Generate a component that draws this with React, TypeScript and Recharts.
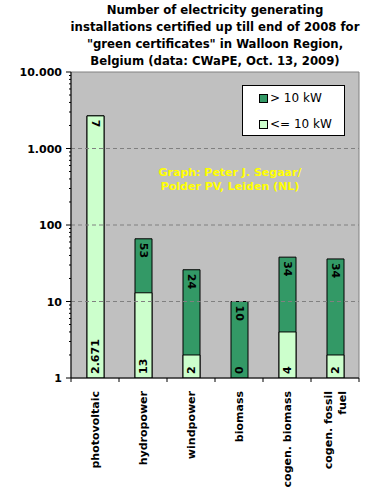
import React from 'react';
import { Bar, BarChart, LabelList, ReferenceArea, ReferenceLine, XAxis, YAxis } from 'recharts';

const CATEGORIES = ['photovoltaic', 'hydropower', 'windpower', 'biomass', 'cogen. biomass', 'cogen. fossil fuel'];
const SMALL_COUNTS = [2671, 13, 2, 0, 4, 2]; // <= 10 kW
const LARGE_COUNTS = [7, 53, 24, 10, 34, 34]; // > 10 kW
const SERIES_NAMES = ['> 10 kW', '<= 10 kW'];
const DECADES = [1, 10, 100, 1000, 10000];
const DECADE_LABELS = ['1', '10', '100', '1.000', '10.000'];
const GRID_VALUES = [10, 100, 1000];

const TITLE = [
  'Number of electricity generating',
  'installations certified up till end of 2008 for',
  '"green certificates" in Walloon Region,',
  'Belgium (data: CWaPE, Oct. 13, 2009)',
];
const CREDIT = ['Graph: Peter J. Segaar/', 'Polder PV, Leiden (NL)'];

const W = 390;
const H = 491;
const PLOT_LEFT = 71;
const PLOT_RIGHT = 359;
const PLOT_TOP = 72;
const PLOT_BOTTOM = 378;
const BAND = (PLOT_RIGHT - PLOT_LEFT) / CATEGORIES.length;

const DARK = '#339966';
const LIGHT = '#ccffcc';
const FONT = '"DejaVu Sans", Verdana, sans-serif';

const data = CATEGORIES.map((name, i) => ({
  name,
  total: SMALL_COUNTS[i] + LARGE_COUNTS[i],
  small: SMALL_COUNTS[i] > 0 ? SMALL_COUNTS[i] : null,
}));

// minor ticks 2..9 inside every decade
const yTicks: number[] = [];
DECADES.forEach((d, i) => {
  if (i === DECADES.length - 1) {
    yTicks.push(d);
    return;
  }
  for (let m = 1; m < 10; m++) yTicks.push(d * m);
});

function YTick({ y, payload }: any) {
  const idx = DECADES.indexOf(payload.value);
  const major = idx >= 0;
  return (
    <g>
      <line x1={PLOT_LEFT - (major ? 5 : 2)} x2={PLOT_LEFT} y1={y} y2={y} stroke="#000" />
      {major && (
        <text x={PLOT_LEFT - 9} y={y} dy={4} textAnchor="end" fontSize={11} fontWeight="bold" fill="#000" fontFamily={FONT}>
          {DECADE_LABELS[idx]}
        </text>
      )}
    </g>
  );
}

function XTick({ x, payload, index }: any) {
  const label: string = payload.value;
  let lines = [label];
  if (label.length > 15) {
    const cut = label.lastIndexOf(' ');
    lines = [label.slice(0, cut), label.slice(cut + 1)];
  }
  const top = PLOT_BOTTOM + 13;
  return (
    <g>
      <line x1={x - BAND / 2} x2={x - BAND / 2} y1={PLOT_BOTTOM} y2={PLOT_BOTTOM + 4} stroke="#000" />
      {index === CATEGORIES.length - 1 && (
        <line x1={x + BAND / 2} x2={x + BAND / 2} y1={PLOT_BOTTOM} y2={PLOT_BOTTOM + 4} stroke="#000" />
      )}
      {lines.map((ln, i) => {
        const cx = x + (i - (lines.length - 1) / 2) * 14;
        return (
          <text
            key={ln}
            x={cx}
            y={top}
            textAnchor="end"
            dominantBaseline="central"
            transform={`rotate(-90, ${cx}, ${top})`}
            fontSize={11}
            fontWeight="bold"
            fill="#000"
            fontFamily={FONT}
          >
            {ln}
          </text>
        );
      })}
    </g>
  );
}

function BarLabels(props: any) {
  const { x, y, width, index } = props;
  const cx = x + width / 2;
  const topY = y + 4;
  const botY = PLOT_BOTTOM - 4;
  return (
    <g fontFamily={FONT} fontSize={11} fontWeight="bold" fill="#000">
      <text x={cx} y={topY} textAnchor="start" dominantBaseline="central" transform={`rotate(90, ${cx}, ${topY})`}>
        {LARGE_COUNTS[index]}
      </text>
      <text x={cx} y={botY} textAnchor="start" dominantBaseline="central" transform={`rotate(-90, ${cx}, ${botY})`}>
        {SMALL_COUNTS[index].toLocaleString('de-DE')}
      </text>
    </g>
  );
}

function LegendBox() {
  const colors = [DARK, LIGHT];
  return (
    <div
      style={{
        position: 'absolute',
        left: 242,
        top: 85,
        width: 101,
        height: 49,
        background: '#fff',
        border: '1px solid #000',
        fontFamily: FONT,
        fontSize: 12,
      }}
    >
      {SERIES_NAMES.map((name, i) => (
        <div key={name} style={{ position: 'absolute', left: 16, top: 4 + i * 26, height: 16, display: 'flex', alignItems: 'center' }}>
          <span style={{ width: 7, height: 7, background: colors[i], border: '1px solid #000', marginRight: 2 }} />
          <span>{name}</span>
        </div>
      ))}
    </div>
  );
}

export default function App() {
  return (
    <div style={{ position: 'absolute', left: 0, top: 0, width: W, height: H, background: '#fff', fontFamily: FONT }}>
      <div
        style={{
          position: 'absolute',
          left: 40,
          width: 350,
          top: 1,
          textAlign: 'center',
          fontWeight: 'bold',
          fontSize: 13,
          fontStretch: 'condensed',
          lineHeight: '17px',
          color: '#000',
        }}
      >
        {TITLE.map((t) => (
          <div key={t}>{t}</div>
        ))}
      </div>

      <BarChart
        width={W}
        height={H}
        data={data}
        margin={{ top: PLOT_TOP, right: W - PLOT_RIGHT, left: 0, bottom: 0 }}
        barSize={17}
        barGap={-17}
      >
        <ReferenceArea y1={1} y2={10000} fill="#c0c0c0" fillOpacity={1} stroke="#808080" />
        {GRID_VALUES.map((v) => (
          <ReferenceLine key={v} y={v} stroke="#808080" strokeDasharray="4 3" />
        ))}
        <Bar dataKey="total" fill={DARK} stroke="#000" strokeWidth={1} isAnimationActive={false} />
        <Bar dataKey="small" fill={LIGHT} stroke="#000" strokeWidth={1} isAnimationActive={false} />
        <Bar dataKey="total" fill="none" stroke="none" isAnimationActive={false}>
          <LabelList dataKey="total" content={<BarLabels />} />
        </Bar>
        <XAxis
          dataKey="name"
          interval={0}
          height={H - PLOT_BOTTOM}
          tickLine={false}
          axisLine={{ stroke: '#000' }}
          tick={<XTick />}
        />
        <YAxis
          type="number"
          scale="log"
          domain={[1, 10000]}
          allowDataOverflow
          ticks={yTicks}
          interval={0}
          width={PLOT_LEFT}
          tickLine={false}
          axisLine={{ stroke: '#000' }}
          tick={<YTick />}
        />
      </BarChart>

      <div
        style={{
          position: 'absolute',
          left: 130,
          width: 200,
          top: 166,
          textAlign: 'center',
          color: '#ffff00',
          fontWeight: 'bold',
          fontSize: 11,
          lineHeight: '14px',
        }}
      >
        {CREDIT.map((t) => (
          <div key={t}>{t}</div>
        ))}
      </div>
      <LegendBox />
    </div>
  );
}
